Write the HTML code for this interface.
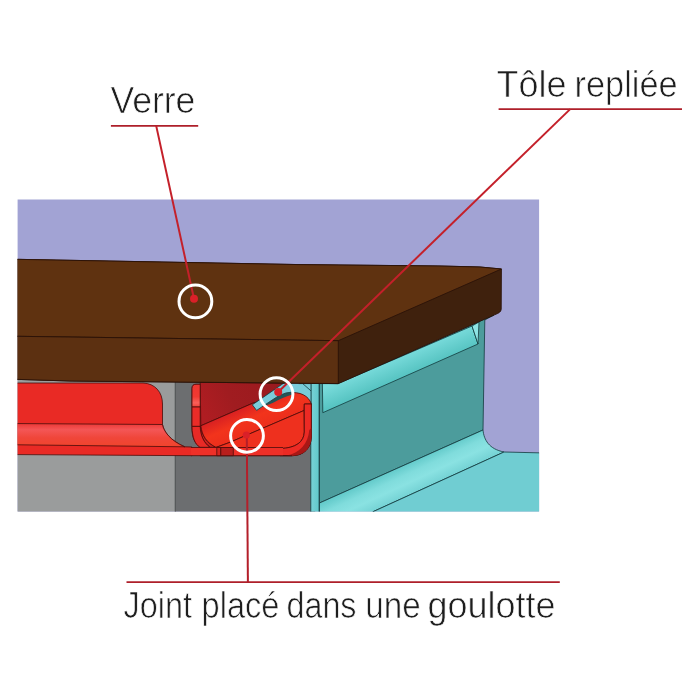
<!DOCTYPE html>
<html lang="fr">
<head>
<meta charset="utf-8">
<title>Joint placé dans une goulotte</title>
<style>
html,body{margin:0;padding:0;background:#fff;}
body{width:700px;height:700px;overflow:hidden;position:relative;}
svg{position:absolute;left:0;top:0;display:block;}
text{font-family:"Liberation Sans",sans-serif;fill:#1e1e1e;stroke:#fff;stroke-width:0.7px;}
</style>
</head>
<body>
<svg width="700" height="700" viewBox="0 0 700 700">
<defs>
<clipPath id="frame"><rect x="17.6" y="199.5" width="521.5" height="312"/></clipPath>
<linearGradient id="cyl" gradientUnits="userSpaceOnUse" x1="225" y1="415" x2="236" y2="440">
<stop offset="0" stop-color="#D82022"/><stop offset="0.5" stop-color="#F2341C"/><stop offset="1" stop-color="#EC2E1C"/>
</linearGradient>
<linearGradient id="fil" gradientUnits="userSpaceOnUse" x1="0" y1="424" x2="0" y2="447">
<stop offset="0" stop-color="#EC3A38"/><stop offset="0.25" stop-color="#F45656"/><stop offset="0.6" stop-color="#F0463A"/><stop offset="1" stop-color="#F0442C"/>
</linearGradient>
<linearGradient id="cfil" gradientUnits="userSpaceOnUse" x1="400" y1="468" x2="412" y2="494">
<stop offset="0" stop-color="#66CCCC"/><stop offset="0.3" stop-color="#80DCDC"/><stop offset="0.6" stop-color="#8AE2E2"/><stop offset="1" stop-color="#74D2D4"/>
</linearGradient>
<linearGradient id="band" gradientUnits="userSpaceOnUse" x1="395" y1="357" x2="404" y2="378">
<stop offset="0" stop-color="#7ADCDC"/><stop offset="1" stop-color="#54C2C0"/>
</linearGradient>
<linearGradient id="strip" gradientUnits="userSpaceOnUse" x1="311" y1="0" x2="319" y2="0">
<stop offset="0" stop-color="#78D2D6"/><stop offset="1" stop-color="#60C8CA"/>
</linearGradient>
<linearGradient id="back" gradientUnits="userSpaceOnUse" x1="280" y1="384" x2="205" y2="420">
<stop offset="0" stop-color="#9A1A1E"/><stop offset="0.6" stop-color="#A01C20"/><stop offset="1" stop-color="#B01D22"/>
</linearGradient>
<linearGradient id="sect" gradientUnits="userSpaceOnUse" x1="0" y1="384" x2="0" y2="407">
<stop offset="0" stop-color="#EE3430"/><stop offset="0.55" stop-color="#F03A32"/><stop offset="0.82" stop-color="#F8605A"/><stop offset="1" stop-color="#F04038"/>
</linearGradient>
</defs>
<g clip-path="url(#frame)" stroke-linejoin="round">
<!-- background -->
<rect x="17" y="199" width="523" height="313" fill="#A2A3D4"/>

<!-- grey sections -->
<rect x="17" y="379" width="159" height="133" fill="#9A9C9C"/>
<rect x="175.2" y="379" width="140" height="133" fill="#6C6E70"/>
<line x1="175.2" y1="381" x2="175.2" y2="512" stroke="#3A3C3C" stroke-width="0.7"/>

<!-- cyan folded sheet -->
<g stroke="#123A3C" stroke-width="0.8">
<polygon points="319.5,383.6 338,383.6 494,315 484.8,320 483,430 319.5,503" fill="#4C9C9C"/>
<polygon points="322.4,383.6 338,383.6 472,326 478,344 322.8,412.7" fill="url(#band)"/>
<polygon points="472,326 479,322 478,344" fill="#8EE4E4"/>
<path d="M319.5,503 L483,430 C484,440 489,449 504,452 L373,511.7 L373,520 L319.5,520 Z" fill="url(#cfil)"/>
<polygon points="373,511.7 504,452 545,453 545,520 373,520" fill="#70CDD2"/>
<rect x="310.8" y="383.4" width="8.3" height="135" fill="url(#strip)"/>
<polygon points="279.3,383.6 311,383.6 311,412 288,396 270,400" fill="#78CCD8"/>
<line x1="302.7" y1="383.6" x2="311" y2="390.9"/>
</g>

<!-- red parts : left block -->
<g stroke="#4A0C0A" stroke-width="0.8">
<path d="M10,383 L143,383 C155,383.5 162.5,392 162.5,404 L162.5,424.5 C163.5,431 170,440.5 184.7,446.8 L192,447 L192,455.7 L18,454.6 L10,454.6 Z" fill="#E92A25"/>
<path d="M10,423.5 L162.5,424.5 C163.5,431 170,440.5 184.7,446.8 L18,444.8 L10,444.8 Z" fill="url(#fil)"/>
<!-- U channel body -->
<path d="M192,388.5 Q192,384.3 196,384.3 L262,383.6 L262,400 L304.3,404 L311.3,404 L311.3,437 C311,448 304,455.7 292,455.7 L200,455.7 L200,447 C195,444 192,438 191.8,426.4 Z" fill="#EC2A24"/>
<!-- inner back (dark) -->
<polygon points="200.2,382 288,382 288,394 252.3,403.4 200.8,425.8" fill="url(#back)"/>
<!-- inner curved surface between section face and cylinder -->
<path d="M200.2,426.4 L200.8,425.8 C202,436 207,443 216,447.3 L210,447.3 C204,443 200.5,436 200.2,426.4 Z" fill="#C82020"/>
<!-- section face -->
<path d="M192,388.5 Q192,384.3 196,384.3 L200.2,384.3 L200.2,407 L192,407 Z" fill="url(#sect)"/>
<path d="M192,407 L200.2,407 L200.2,426.4 L192,426.4 Z" fill="#EA2C28"/>
<path d="M192,426.4 L200.2,426.4 C200.5,436 204,443 210,447.3 L200,447.3 C195,444 192.2,438 192,426.4 Z" fill="#E82A26"/>
<!-- cylinder -->
<path d="M200.8,425.8 L252.3,403.4 L288,393 C300,391 309,396 311.3,404 L304.3,404 L304,410.5 L230,442.3 L216,447.3 C207,443 202,436 200.8,425.8 Z" fill="url(#cyl)"/>
<!-- lower inner -->
<path d="M216,447.5 L230,442.3 L304,410.5 L304.3,432 C304,442 296,448 280,448.6 L216,447.5 Z" fill="#EE301E"/>
<!-- right wall -->
<path d="M304.3,404 L311.3,404 L311.3,437 C311,448 304,455.7 292,455.7 L280,455.7 L280,448.6 C296,448 304,442 304.3,432 Z" fill="#EC2A24"/>
<path d="M311.3,428 L311.3,437 C311,448 304,455.7 292,455.7 L286,455.7 C300,453 308,444 309.3,430 Z" fill="#A81816" stroke="none"/>
<!-- bottom strip -->
<rect x="191" y="447.5" width="92" height="8.2" fill="#EE3028" stroke="none"/>
<line x1="191" y1="447.5" x2="283" y2="447.5"/>
<line x1="191" y1="455.7" x2="292" y2="455.7"/>
<rect x="216.8" y="447.5" width="4" height="8.2" fill="#D62420"/>
<rect x="220.8" y="447.5" width="12.5" height="8.2" fill="#B81E1C"/>
</g>

<!-- cyan tip + shadow -->
<path d="M263.5,405.8 L270.7,401 L279.3,395.4 L286.1,392.9 L292,392.2 L293.2,394 C289.5,395.4 283.5,397.4 279.3,399.6 C276,401.4 273,403 270.7,403.8 C268,404.8 266,405.6 263.5,405.8 Z" fill="#235558"/>
<path d="M252.3,404.8 L284.5,382.6 L300,382.6 L293,392 L286.1,392.9 L279.3,395.4 L270.7,401 L256.6,410.4 Z" fill="#7ACCDA"/>
<path d="M284.5,382.6 L252.3,404.8 L256.6,410.4 L270.7,401 L279.3,395.4 L286.1,392.9 L293,392" fill="none" stroke="#123A3C" stroke-width="0.8"/>

<!-- glass -->
<g stroke="#2A1208" stroke-width="0.9">
<path d="M10,259.2 L300,264.6 L380,265.4 L440,266 L480,267 L501.4,269 L501.2,309 C501,312 499,313 495,314.6 L338.3,383.6 L70,381 L18,379.4 L10,379.2 Z" fill="#3F210D"/>
<path d="M10,259.2 L300,264.6 L380,265.4 L440,266 L480,267 L501.4,269 L338.3,340.7 L10,336.2 Z" fill="#5F3210"/>
<path d="M10,336.2 L338.3,340.7 L338.3,383.6 L70,381 L18,379.4 L10,379.2 Z" fill="#5C3011"/>
</g>
</g>
</g>

<!-- leaders -->
<g stroke="#AE1F2A" stroke-width="1.9" fill="none" stroke-linecap="butt">
<line x1="110.9" y1="125.9" x2="198.2" y2="125.9"/>
<line x1="498.6" y1="109.1" x2="682" y2="109.1"/>
<line x1="126.5" y1="582.1" x2="559.8" y2="582.1"/>
</g>
<g stroke="#C4202A" stroke-width="2" fill="none" stroke-linecap="butt">
<line x1="156.2" y1="125.9" x2="194" y2="298.7"/>
<line x1="570.2" y1="109.1" x2="278.2" y2="392"/>
<line x1="246.8" y1="435" x2="247.9" y2="582.1" stroke="#B41F2A"/>
</g>
<g fill="#DA2028">
<circle cx="194" cy="298.7" r="4"/>
<circle cx="278.2" cy="392" r="4"/>
<circle cx="246.3" cy="435" r="3.6"/>
</g>
<g fill="none" stroke="#fff" stroke-width="3">
<circle cx="195.4" cy="301.4" r="16.4"/>
<circle cx="276.5" cy="394.1" r="16.4"/>
<circle cx="247" cy="435.8" r="16.4"/>
</g>

<!-- labels -->
<g style="filter:grayscale(1)">
<text x="110.4" y="112.8" font-size="36.5" textLength="85" lengthAdjust="spacingAndGlyphs">Verre</text>
<text y="96.6" font-size="36" lengthAdjust="spacingAndGlyphs"><tspan x="496.5" textLength="70" lengthAdjust="spacingAndGlyphs">Tôle</tspan> <tspan x="574.6" textLength="103" lengthAdjust="spacingAndGlyphs">repliée</tspan></text>
<text y="618" font-size="36" lengthAdjust="spacingAndGlyphs"><tspan x="123.5" textLength="68.5" lengthAdjust="spacingAndGlyphs">Joint</tspan> <tspan x="201.5" textLength="78" lengthAdjust="spacingAndGlyphs">placé</tspan> <tspan x="286.5" textLength="70" lengthAdjust="spacingAndGlyphs">dans</tspan> <tspan x="365.3" textLength="55.4" lengthAdjust="spacingAndGlyphs">une</tspan> <tspan x="427.6" textLength="128" lengthAdjust="spacingAndGlyphs">goulotte</tspan></text>
</g>
</svg>
</body>
</html>
